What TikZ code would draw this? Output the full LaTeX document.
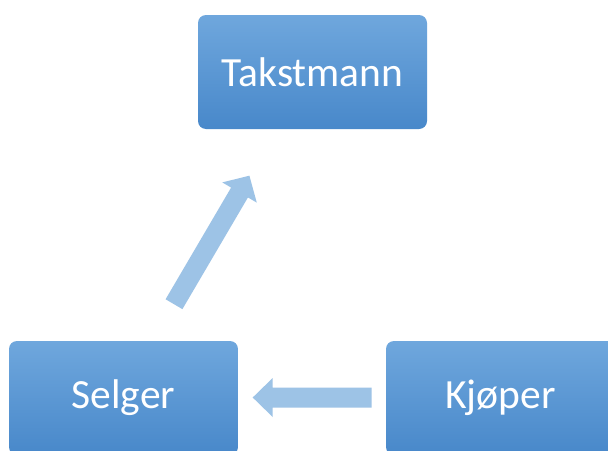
\documentclass[tikz,border=0pt]{standalone}
\usepackage{fontspec}
\setmainfont{Carlito}
\begin{document}
\begin{tikzpicture}[x=1pt,y=-1pt,
  boxnode/.style={rectangle, rounded corners=8pt, minimum width=229pt, minimum height=114pt,
    top color=boxtop, bottom color=boxbot, draw=none, text=white, font=\fontsize{41.5}{48}\selectfont, inner sep=0pt},
  blockarrow/.style={fill=arrowblue, draw=none}]
\definecolor{boxtop}{HTML}{6FA7DD}
\definecolor{boxbot}{HTML}{4888CA}
\definecolor{arrowblue}{HTML}{9DC3E6}
\useasboundingbox (0,0) rectangle (608,450);
\clip (0,0) rectangle (608,450);
\fill[white] (0,0) rectangle (608,450);
\node[boxnode] (takst) at (312.5,72) {Takstmann};
\node[boxnode] (selger) at (123.5,398) {Selger};
\node[boxnode] (kjoper) at (500.5,398) {Kjøper};
% block arrow Selger -> Takstmann
\begin{scope}[shift={(174,304.2)}, rotate=59.6]
\fill[blockarrow] (0,-9.75) -- (129.5,-9.75) -- (129.5,-20) -- (149,0) -- (129.5,20) -- (129.5,9.75) -- (0,9.75) -- cycle;
\end{scope}
% block arrow Kjoper -> Selger
\begin{scope}[shift={(371.7,397.5)}, rotate=180]
\fill[blockarrow] (0,-10) -- (99,-10) -- (99,-19.5) -- (119,0) -- (99,19.5) -- (99,10) -- (0,10) -- cycle;
\end{scope}
\end{tikzpicture}
\end{document}
